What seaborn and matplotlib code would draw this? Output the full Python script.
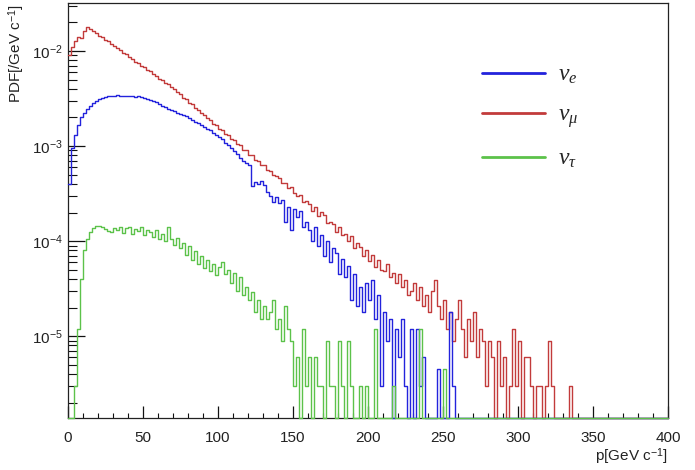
import numpy as np
import pandas as pd
import matplotlib
matplotlib.use("Agg")
import matplotlib.pyplot as plt
from matplotlib.lines import Line2D
from matplotlib.ticker import MultipleLocator, LogLocator
import seaborn as sns

# ---------------- data (PDF per 2 GeV bin, bins start at 0 GeV) ----------------
bin_width = 2.0
x_range = (0, 400)

nu_mu_pdf = [
    9.0e-3, 1.10e-2, 1.28e-2, 1.40e-2, 1.37e-2, 1.62e-2, 1.80e-2, 1.71e-2, 1.63e-2, 1.55e-2,
    1.45e-2, 1.40e-2, 1.32e-2, 1.26e-2, 1.18e-2, 1.14e-2, 1.07e-2, 1.02e-2, 9.55e-3, 9.20e-3,
    8.60e-3, 8.30e-3, 7.75e-3, 7.50e-3, 6.98e-3, 6.72e-3, 6.30e-3, 6.10e-3, 5.68e-3, 5.50e-3,
    5.10e-3, 4.95e-3, 4.60e-3, 4.45e-3, 4.15e-3, 3.96e-3, 3.68e-3, 3.52e-3, 3.22e-3, 3.10e-3,
    2.85e-3, 2.75e-3, 2.52e-3, 2.42e-3, 2.22e-3, 2.14e-3, 1.96e-3, 1.90e-3, 1.72e-3, 1.68e-3,
    1.52e-3, 1.48e-3, 1.35e-3, 1.30e-3, 1.20e-3, 1.15e-3, 1.05e-3, 1.02e-3, 9.20e-4, 9.00e-4,
    8.10e-4, 8.00e-4, 7.20e-4, 7.00e-4, 6.30e-4, 6.25e-4, 5.60e-4, 5.50e-4, 4.95e-4, 4.85e-4,
    4.60e-4, 4.05e-4, 4.10e-4, 3.60e-4, 3.75e-4, 3.20e-4, 3.00e-4, 3.05e-4, 2.60e-4, 2.65e-4,
    2.45e-4, 2.10e-4, 2.30e-4, 1.85e-4, 2.05e-4, 1.90e-4, 1.55e-4, 1.60e-4, 1.50e-4, 1.25e-4,
    1.40e-4, 1.15e-4, 1.20e-4, 1.00e-4, 1.12e-4, 8.4e-5, 9.6e-5, 8.6e-5, 7.0e-5, 8.0e-5,
    6.2e-5, 7.2e-5, 5.4e-5, 6.3e-5, 5.0e-5, 4.8e-5, 5.7e-5, 4.2e-5, 4.6e-5, 3.6e-5,
    4.5e-5, 3.3e-5, 3.9e-5, 2.7e-5, 3.0e-5, 3.6e-5, 2.4e-5, 3.3e-5, 2.1e-5, 2.7e-5,
    1.8e-5, 3.0e-5, 3.9e-5, 2.1e-5, 1.5e-5, 2.4e-5, 1.2e-5, 1.8e-5, 9.0e-6, 1.5e-5,
    2.4e-5, 1.2e-5, 6.0e-6, 1.5e-5, 9.0e-6, 1.8e-5, 6.0e-6, 1.2e-5, 9.0e-6, 3.0e-6,
    9.0e-6, 6.0e-6, 0.0, 9.0e-6, 3.0e-6, 6.0e-6, 0.0, 3.0e-6, 1.2e-5, 3.0e-6,
    9.0e-6, 0.0, 6.0e-6, 6.0e-6, 3.0e-6, 0.0, 3.0e-6, 3.0e-6, 0.0, 3.0e-6,
    9.0e-6, 3.0e-6, 0.0, 0.0, 0.0, 0.0, 0.0, 3.0e-6,
]

nu_e_pdf = [
    4.0e-4, 9.5e-4, 1.30e-3, 1.65e-3, 2.00e-3, 2.25e-3, 2.45e-3, 2.65e-3, 2.85e-3, 3.00e-3,
    3.12e-3, 3.22e-3, 3.30e-3, 3.34e-3, 3.38e-3, 3.36e-3, 3.42e-3, 3.38e-3, 3.40e-3, 3.36e-3,
    3.40e-3, 3.35e-3, 3.32e-3, 3.34e-3, 3.25e-3, 3.20e-3, 3.15e-3, 3.08e-3, 2.98e-3, 2.90e-3,
    2.78e-3, 2.65e-3, 2.55e-3, 2.48e-3, 2.38e-3, 2.32e-3, 2.25e-3, 2.18e-3, 2.10e-3, 2.05e-3,
    1.96e-3, 1.90e-3, 1.80e-3, 1.74e-3, 1.68e-3, 1.60e-3, 1.52e-3, 1.46e-3, 1.38e-3, 1.32e-3,
    1.24e-3, 1.18e-3, 1.08e-3, 1.02e-3, 9.6e-4, 8.8e-4, 8.2e-4, 7.5e-4, 7.0e-4, 6.6e-4,
    6.4e-4, 3.8e-4, 4.2e-4, 4.0e-4, 4.3e-4, 3.9e-4, 3.3e-4, 3.0e-4, 2.6e-4, 2.9e-4,
    2.5e-4, 2.7e-4, 1.6e-4, 2.3e-4, 1.3e-4, 2.2e-4, 1.8e-4, 2.1e-4, 1.4e-4, 1.6e-4,
    1.3e-4, 1.0e-4, 1.4e-4, 9.0e-5, 1.15e-4, 7.0e-5, 1.0e-4, 6.0e-5, 8.5e-5, 7.5e-5,
    4.5e-5, 6.5e-5, 4.2e-5, 5.5e-5, 2.4e-5, 4.5e-5, 2.1e-5, 3.3e-5, 1.8e-5, 3.6e-5,
    2.4e-5, 3.9e-5, 1.5e-5, 2.7e-5, 3.0e-6, 1.8e-5, 9.0e-6, 1.5e-5, 0.0, 1.2e-5,
    6.0e-6, 1.5e-5, 3.0e-6, 0.0, 1.2e-5, 0.0, 1.2e-5, 3.0e-6, 6.0e-6, 0.0,
    0.0, 0.0, 0.0, 4.5e-6, 0.0, 0.0, 0.0, 1.8e-5, 3.0e-6,
]

nu_tau_pdf = [
    0.0, 0.0, 3.0e-6, 1.2e-5, 4.0e-5, 8.0e-5, 1.05e-4, 1.25e-4, 1.38e-4, 1.45e-4,
    1.46e-4, 1.42e-4, 1.33e-4, 1.28e-4, 1.26e-4, 1.38e-4, 1.30e-4, 1.42e-4, 1.22e-4, 1.36e-4,
    1.40e-4, 1.18e-4, 1.34e-4, 1.28e-4, 1.40e-4, 1.15e-4, 1.32e-4, 1.25e-4, 1.10e-4, 1.30e-4,
    1.06e-4, 1.20e-4, 1.00e-4, 1.42e-4, 1.05e-4, 9.2e-5, 1.08e-4, 8.4e-5, 9.6e-5, 7.2e-5,
    8.8e-5, 6.4e-5, 7.8e-5, 5.8e-5, 7.0e-5, 5.2e-5, 6.4e-5, 4.8e-5, 5.8e-5, 4.4e-5,
    5.4e-5, 6.0e-5, 4.5e-5, 5.0e-5, 3.6e-5, 4.6e-5, 3.0e-5, 4.2e-5, 2.7e-5, 3.3e-5,
    2.4e-5, 2.9e-5, 1.8e-5, 2.4e-5, 1.5e-5, 2.1e-5, 1.5e-5, 1.8e-5, 2.4e-5, 1.2e-5,
    1.5e-5, 9.0e-6, 2.1e-5, 1.2e-5, 9.0e-6, 3.0e-6, 6.0e-6, 0.0, 1.2e-5, 3.0e-6,
    6.0e-6, 0.0, 6.0e-6, 3.0e-6, 3.0e-6, 0.0, 9.0e-6, 3.0e-6, 3.0e-6, 0.0,
    9.0e-6, 3.0e-6, 0.0, 9.0e-6, 3.0e-6, 0.0, 0.0, 3.0e-6, 0.0, 3.0e-6,
    0.0, 0.0, 1.2e-5, 0.0, 0.0, 0.0, 0.0, 0.0, 3.0e-6, 0.0,
    0.0, 0.0, 0.0, 0.0, 0.0, 0.0, 0.0, 1.2e-5, 0.0, 0.0,
    0.0, 0.0, 0.0, 0.0, 0.0, 4.5e-6,
]

series_labels = [r"$\nu_e$", r"$\nu_\mu$", r"$\nu_\tau$"]
x_ticks = [0, 50, 100, 150, 200, 250, 300, 350, 400]
x_label = "p[GeV c$^{-1}$]"
y_label = "PDF[/GeV c$^{-1}$]"
y_limits = (1.38e-6, 3.2e-2)

colors = {"e": "#2323dc", "mu": "#c23b3b", "tau": "#5cc24a"}

# ---------------- style ----------------
sns.set_style("white")
plt.rcParams["font.family"] = ["Liberation Sans", "DejaVu Sans"]
plt.rcParams["mathtext.fontset"] = "custom"
plt.rcParams["mathtext.rm"] = "Liberation Sans"
plt.rcParams["mathtext.it"] = "Liberation Serif:italic"
plt.rcParams["mathtext.bf"] = "Liberation Sans:bold"

fig = plt.figure(figsize=(6.95, 4.70), dpi=100)
ax = fig.add_axes([68 / 695, 1 - 418 / 470, 600 / 695, 415 / 470])


def draw(vals, color):
    vals = np.asarray(vals, dtype=float)
    df = pd.DataFrame({
        "p": np.arange(len(vals)) * bin_width + bin_width / 2,
        "pdf": vals,
    })
    n_before = len(ax.lines)
    sns.histplot(data=df, x="p", weights="pdf", binwidth=bin_width,
                 binrange=x_range, element="step", fill=False,
                 color=color, linewidth=1.0, ax=ax)
    for ln in ax.lines[n_before:]:
        y = np.asarray(ln.get_ydata(), dtype=float)
        ln.set_ydata(np.clip(y, y_limits[0], None))
        ln.set_clip_on(False)
        ln.set_zorder(3)


draw(nu_mu_pdf, colors["mu"])
draw(nu_e_pdf, colors["e"])
draw(nu_tau_pdf, colors["tau"])

ax.set_yscale("log")
ax.set_xlim(*x_range)
ax.set_ylim(*y_limits)
ax.set_xticks(x_ticks)
ax.xaxis.set_minor_locator(MultipleLocator(10))
ax.yaxis.set_major_locator(LogLocator(base=10, numticks=20))
ax.yaxis.set_minor_locator(LogLocator(base=10, subs=np.arange(2, 10), numticks=20))

ax.tick_params(axis="both", which="both", direction="in", colors="#111111",
               labelcolor="#222222", labelsize=11, top=False, right=False,
               bottom=True, left=True)
ax.tick_params(axis="y", which="major", length=12, width=0.9, pad=4)
ax.tick_params(axis="y", which="minor", length=6.5, width=0.8)
ax.tick_params(axis="x", which="major", length=8.5, width=0.9, pad=9)
ax.tick_params(axis="x", which="minor", length=3.6, width=0.8)

for s in ax.spines.values():
    s.set_visible(True)
    s.set_color("#222222")
    s.set_linewidth(0.9)
    s.set_zorder(2)

ax.set_xlabel(x_label, loc="right", fontsize=11, color="#222222", labelpad=1)
ax.set_ylabel("")
fig.text(17 / 695, 1 - 4 / 470, y_label, rotation=90, ha="center", va="top",
         fontsize=11, color="#222222")

handles = [Line2D([], [], color=colors["e"], lw=2.0),
           Line2D([], [], color=colors["mu"], lw=2.0),
           Line2D([], [], color=colors["tau"], lw=2.0)]
fig.legend(handles, series_labels, loc="upper left",
           bbox_to_anchor=(482 / 695, 1 - 64 / 470), frameon=False,
           fontsize=17, handlelength=2.67, handletextpad=0.55,
           labelspacing=0.75, borderpad=0, borderaxespad=0)

fig.savefig("out.png", dpi=100)
